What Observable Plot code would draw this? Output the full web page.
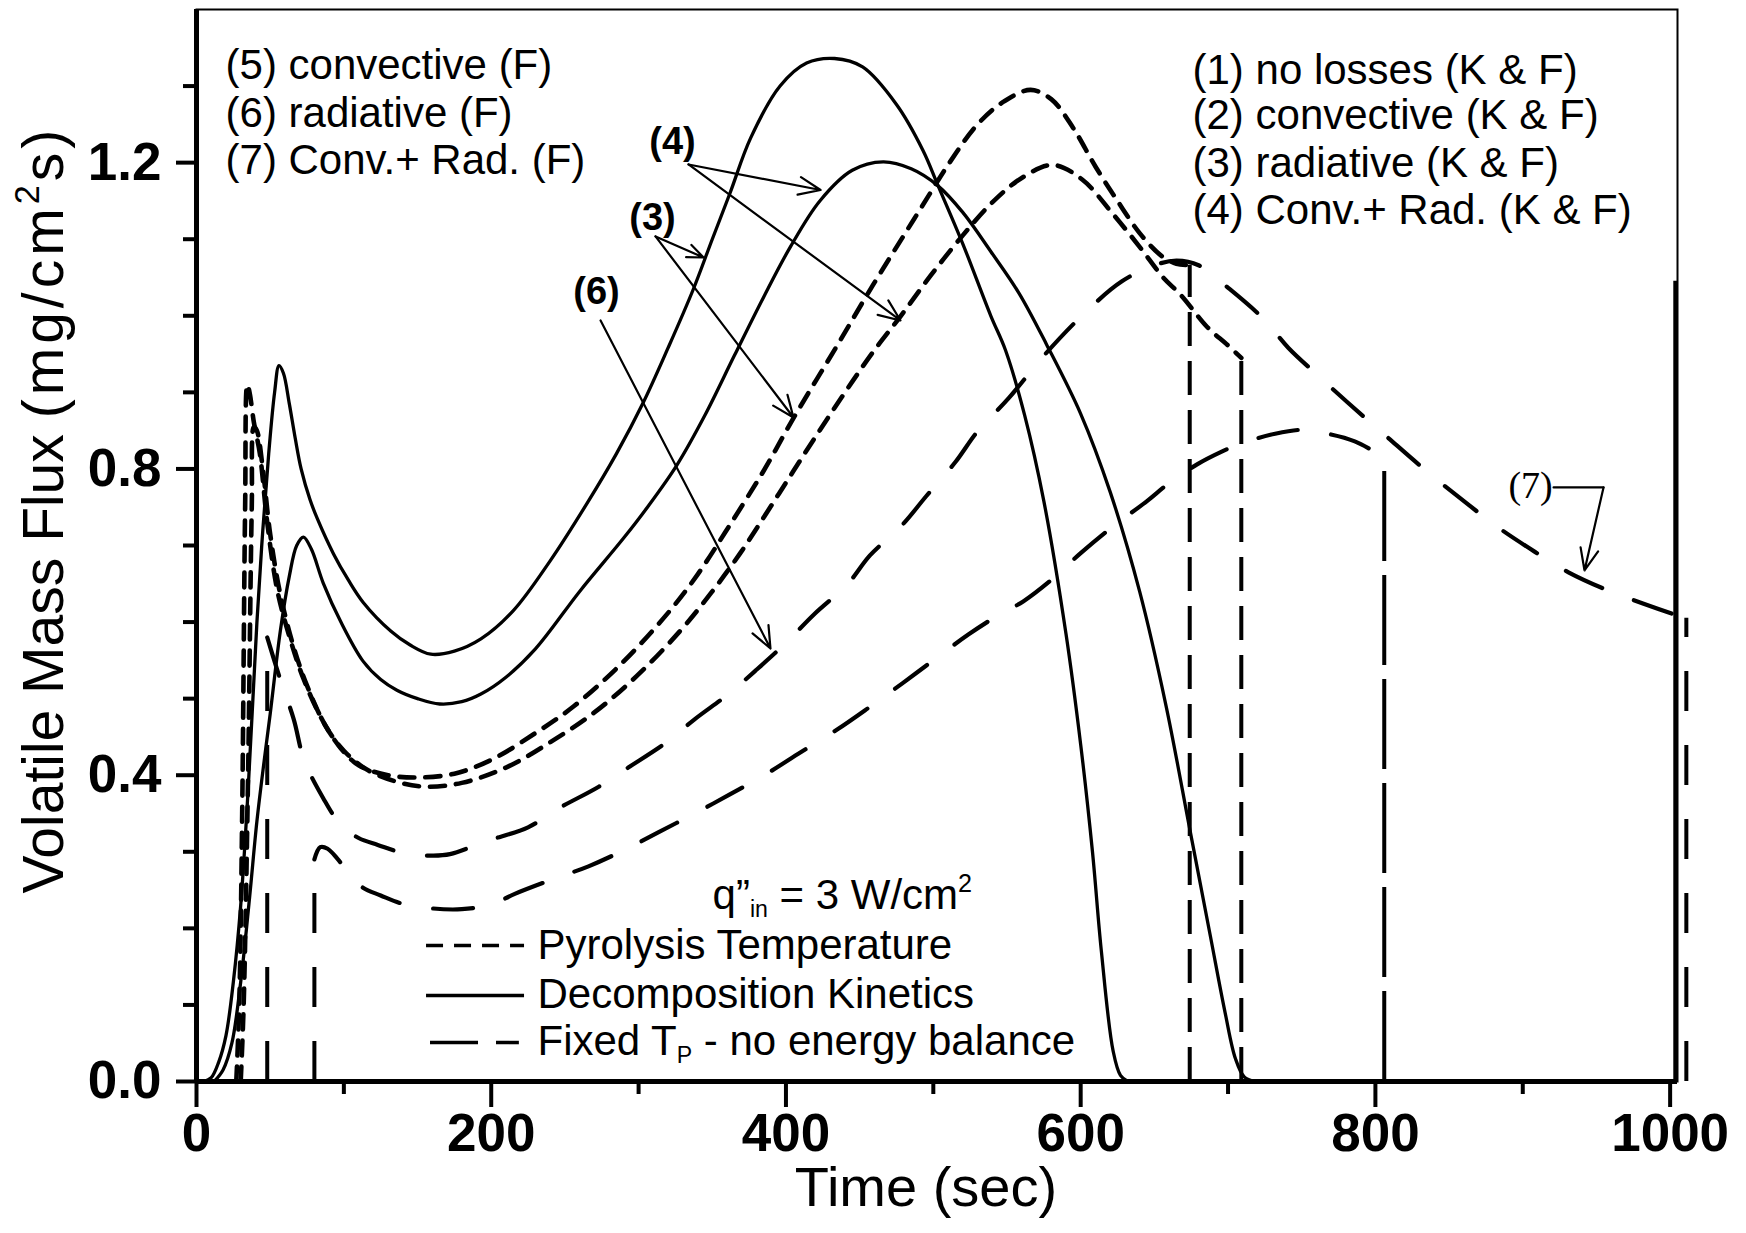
<!DOCTYPE html>
<html>
<head>
<meta charset="utf-8">
<script src="https://cdn.jsdelivr.net/npm/d3@7"></script>
<script src="https://cdn.jsdelivr.net/npm/@observablehq/plot@0.6"></script>
<style>
  html, body { margin: 0; padding: 0; background: #fff; }
  svg { display: block; }
  g[aria-label$="tick label"] text { font-weight: bold; }
</style>
</head>
<body>
<div id="chart"></div>
<script>
// ---------- ticks ----------
const timeTicksMajor = [0, 200, 400, 600, 800, 1000];
const timeTicksMinor = [100, 300, 500, 700, 900];
const fluxTicksMajor = [0, 0.4, 0.8, 1.2];
const fluxTicksMinor = [0.1, 0.2, 0.3, 0.5, 0.6, 0.7, 0.9, 1.0, 1.1, 1.3];

// ---------- series: [time (s), volatile mass flux (mg/cm^2 s)] ----------
// Decomposition kinetics, upper solid curve (arrow 3)
const kinetics3 = [[5,0],[10,0.005],[15,0.025],[20,0.06],[25,0.13],[30,0.23],[35,0.38],[41,0.6],[45,0.72],[49,0.82],[53,0.9],[56,0.935],[59,0.925],[63,0.885],[67,0.84],[71,0.8],[77,0.76],[82,0.735],[93,0.689],[103,0.655],[113,0.626],[132,0.588],[145,0.57],[159,0.558],[175,0.562],[193,0.578],[215,0.615],[240,0.68],[265,0.755],[285,0.82],[303,0.886],[320,0.958],[337,1.034],[350,1.1],[362,1.16],[376,1.232],[396,1.3],[414,1.33],[433,1.336],[452,1.325],[475,1.276],[493,1.216],[503,1.171],[520,1.094],[539,1.0],[549,0.955],[562,0.87],[575,0.758],[590,0.585],[600,0.44],[608,0.3],[614,0.171],[622,0.04],[627,0.008],[632,0]];
// Decomposition kinetics, lower solid curve (arrow 4)
const kinetics4 = [[12,0],[18,0.015],[24,0.05],[30,0.13],[36,0.24],[41,0.34],[46,0.42],[50,0.48],[57,0.59],[63,0.66],[68,0.7],[72.6,0.711],[78,0.695],[86,0.651],[98,0.6],[113,0.549],[125,0.525],[136,0.511],[150,0.5],[165,0.493],[180,0.496],[193,0.506],[210,0.528],[230,0.565],[260,0.64],[290,0.71],[306,0.75],[326,0.805],[345,0.87],[365,0.948],[385,1.025],[403,1.09],[423,1.15],[445,1.19],[466,1.201],[485,1.192],[503,1.17],[520,1.135],[539,1.084],[558,1.03],[577,0.962],[600,0.872],[620,0.77],[640,0.64],[658,0.49],[674,0.33],[688,0.19],[698,0.09],[705,0.03],[711,0.006],[718,0]];
// Pyrolysis temperature, upper short-dash curve (arrow 3)
const pyrolysis3 = [[27,0],[29,0.1],[31,0.35],[33,0.75],[34.5,0.91],[36,0.9],[39,0.86],[43,0.82],[48,0.73],[55,0.64],[64,0.575],[73,0.524],[86,0.47],[98,0.435],[110,0.413],[130,0.4],[150,0.397],[175,0.402],[200,0.42],[230,0.455],[256,0.49],[288,0.545],[320,0.612],[340,0.662],[362,0.727],[385,0.798],[405,0.866],[435,0.962],[459,1.04],[480,1.105],[493,1.145],[511,1.2],[530,1.25],[548,1.28],[566,1.295],[580,1.283],[595,1.245],[610,1.195],[625,1.15],[640,1.108],[655,1.078],[665,1.068],[674,1.066]];
// Pyrolysis temperature, lower short-dash curve (arrow 4)
const pyrolysis4 = [[30,0],[32,0.1],[35,0.4],[37.5,0.75],[39,0.855],[41,0.85],[45,0.8],[50,0.715],[57,0.635],[66,0.567],[75,0.517],[88,0.463],[100,0.432],[115,0.408],[135,0.392],[155,0.385],[180,0.39],[210,0.41],[240,0.443],[270,0.482],[299,0.53],[328,0.588],[350,0.64],[369,0.69],[385,0.737],[400,0.782],[415,0.827],[430,0.871],[445,0.914],[460,0.955],[478,1.0],[498,1.052],[520,1.105],[540,1.148],[560,1.18],[581,1.197],[601,1.178],[621,1.135],[640,1.09],[656,1.05],[668,1.027],[686,0.985],[699,0.963],[709,0.945]];
// Fixed T_P, upper long-dash curve (arrows 6 and 7)
const fixedUpper = [[48,0.58],[57,0.524],[66,0.473],[73,0.42],[86,0.37],[98,0.335],[110,0.318],[123,0.309],[143,0.297],[160,0.295],[172,0.297],[197,0.314],[225,0.332],[246,0.357],[273,0.385],[293,0.41],[319,0.443],[338,0.473],[361,0.506],[379,0.536],[399,0.571],[419,0.61],[442,0.65],[457,0.687],[479,0.727],[495,0.764],[515,0.809],[530,0.849],[551,0.892],[576,0.95],[604,1.006],[628,1.045],[650,1.066],[665,1.072],[680,1.066],[701,1.035],[724,0.996],[741,0.958],[761,0.922],[781,0.887],[806,0.845],[836,0.795],[862,0.755],[883,0.724],[908,0.692],[931,0.665],[957,0.642],[982,0.624],[1006,0.608],[1011,0.605]];
// Fixed T_P, lower long-dash curve
const fixedLower = [[80,0.29],[84,0.306],[89,0.304],[96,0.29],[105,0.268],[113,0.253],[125,0.243],[140,0.232],[160,0.226],[180,0.225],[200,0.231],[216,0.245],[243,0.265],[266,0.281],[290,0.302],[313,0.325],[340,0.352],[361,0.374],[387,0.402],[410,0.43],[435,0.46],[456,0.488],[479,0.52],[500,0.55],[524,0.584],[545,0.61],[561,0.627],[580,0.655],[600,0.69],[622,0.725],[645,0.758],[659,0.78],[679,0.806],[695,0.822],[710,0.834],[732,0.846],[750,0.851],[765,0.847],[786,0.836],[806,0.815]];

// vertical jumps: [time, flux at the top of the jump]
const pyrolysisDrops = [[674, 1.066], [709, 0.945]];
const fixedJumps = [[48, 0.58], [80, 0.29], [1011, 0.605]];
const fixedLowerDrop = [[806, 0.815]];
const kineticsDrop = [[1003.5, 1.045]];

// ---------- texts ----------
const leftNotes = ["(5) convective (F)", "(6) radiative (F)", "(7) Conv.+ Rad. (F)"];
const rightNotes = ["(1) no losses (K & F)", "(2) convective (K & F)", "(3) radiative (K & F)", "(4) Conv.+ Rad. (K & F)"];
const heatNote = "q”in = 3 W/cm2";
const legendLabels = ["Pyrolysis Temperature", "Decomposition Kinetics", "Fixed TP - no energy balance"];
const curveTags = ["(4)", "(3)", "(6)", "(7)"];
const xTitle = "Time (sec)";
const yTitle = "Volatile Mass Flux (mg/cm2s)";

// ---------- layout (annotation anchors in data units) ----------
const leftNotesT = 19.7, leftNotesV = [1.3086, 1.2472, 1.1858];
const rightNotesT = 675.9, rightNotesV = [1.3021, 1.2433, 1.1819, 1.1193];
const heatT = 350.2, heatV = 0.2259;
const legendLineT = [156.1, 222.6], legendLineV = [0.1776, 0.1123, 0.0509];
const legendTextT = 231.4, legendTextV = [0.1606, 0.0966, 0.0340];
const tagPos = [[323.0, 1.2276], [309.4, 1.1284], [271.4, 1.0317], [905.3, 0.7784]];
const pointerArrows = [
  [333.9, 1.1976, 423.5, 1.1643],
  [333.9, 1.1976, 477.7, 0.9939],
  [311.5, 1.1036, 344.1, 1.0761],
  [311.5, 1.1036, 405.1, 0.8672],
  [274.2, 0.9939, 389.5, 0.5655],
  [954.8, 0.7758, 941.9, 0.6674]
];
const tag7Leader = [[920.9, 0.7758], [954.8, 0.7758]];

const SOLID = {stroke: "black", strokeWidth: 3.3};
const SHORT = {stroke: "black", strokeWidth: 4.6, strokeDasharray: "15,11"};
const LONG = {stroke: "black", strokeWidth: 4.2, strokeDasharray: "40,34"};
const FONT = "'Liberation Sans', Arial, Helvetica, sans-serif";

const X = d => d[0], Y = d => d[1];
const line = (data, style) => Plot.line(data, {x: X, y: Y, curve: "catmull-rom", ...style});

const chart = Plot.plot({
  width: 1746,
  height: 1233,
  marginLeft: 196,
  marginRight: 69,
  marginTop: 9,
  marginBottom: 152,
  x: {domain: [0, 1005]},
  y: {domain: [0, 1.4]},
  style: {fontFamily: FONT, background: "white", color: "black"},
  marks: [
    Plot.frame({stroke: "black", strokeWidth: 2}),
    // curves
    line(kinetics3, SOLID),
    line(kinetics4, SOLID),
    line(pyrolysis3, SHORT),
    line(pyrolysis4, SHORT),
    line(fixedUpper, LONG),
    line(fixedLower, LONG),
    Plot.ruleX(pyrolysisDrops, {x: X, y1: 0, y2: Y, stroke: "black", strokeWidth: 4, strokeDasharray: "34,15"}),
    Plot.ruleX(fixedJumps, {x: X, y1: 0, y2: Y, stroke: "black", strokeWidth: 4, strokeDasharray: "40,34"}),
    Plot.ruleX(fixedLowerDrop, {x: X, y1: 0, y2: Y, stroke: "black", strokeWidth: 4, strokeDasharray: "90,14"}),
    Plot.ruleX(kineticsDrop, {x: X, y1: 0, y2: Y, stroke: "black", strokeWidth: 4}),
    // axes
    Plot.ruleX([0], {stroke: "black", strokeWidth: 5}),
    Plot.ruleY([0], {stroke: "black", strokeWidth: 5}),
    Plot.axisX({ticks: timeTicksMajor, tickSize: 26, tickPadding: 6, tickFormat: d3.format("d"), fontSize: 53, fontWeight: "bold", strokeWidth: 4, label: null}),
    Plot.axisX({ticks: timeTicksMinor, tickSize: 13, tickFormat: () => "", strokeWidth: 4, label: null}),
    Plot.axisY({ticks: fluxTicksMajor, tickSize: 20, tickPadding: 15, tickFormat: d3.format(".1f"), fontSize: 53, fontWeight: "bold", strokeWidth: 4, label: null}),
    Plot.axisY({ticks: fluxTicksMinor, tickSize: 13, tickFormat: () => "", strokeWidth: 4, label: null}),
    Plot.text([xTitle], {x: () => 495.0, y: () => -0.162, fontSize: 56, textAnchor: "middle", lineAnchor: "bottom", fill: "black"}),
    Plot.text([yTitle], {x: () => -103, y: () => 0.2455, fontSize: 57, rotate: -90, textAnchor: "start", fill: "black"}),
    // notes
    Plot.text(leftNotes, {x: () => leftNotesT, y: (d, i) => leftNotesV[i], fontSize: 42, textAnchor: "start", lineAnchor: "bottom", fill: "black"}),
    Plot.text(rightNotes, {x: () => rightNotesT, y: (d, i) => rightNotesV[i], fontSize: 42, textAnchor: "start", lineAnchor: "bottom", fill: "black"}),
    Plot.text([heatNote], {x: () => heatT, y: () => heatV, fontSize: 42, textAnchor: "start", lineAnchor: "bottom", fill: "black"}),
    // in-plot legend
    Plot.ruleY([legendLineV[0]], {x1: legendLineT[0], x2: legendLineT[1], stroke: "black", strokeWidth: 3.5, strokeDasharray: "17,11"}),
    Plot.ruleY([legendLineV[1]], {x1: legendLineT[0], x2: legendLineT[1], stroke: "black", strokeWidth: 3.5}),
    Plot.ruleY([legendLineV[2]], {x1: legendLineT[0] + 2.7, x2: legendLineT[1] - 3.5, stroke: "black", strokeWidth: 3.5, strokeDasharray: "48,18"}),
    Plot.text(legendLabels, {x: () => legendTextT, y: (d, i) => legendTextV[i], fontSize: 42, textAnchor: "start", lineAnchor: "bottom", fill: "black"}),
    // curve tags and pointers
    Plot.text(curveTags.slice(0, 3), {x: (d, i) => tagPos[i][0], y: (d, i) => tagPos[i][1], fontSize: 38, fontWeight: "bold", fill: "black"}),
    Plot.text(curveTags.slice(3), {x: () => tagPos[3][0], y: () => tagPos[3][1], fontSize: 38, fontFamily: "'Liberation Serif', 'Times New Roman', serif", fill: "black"}),
    Plot.arrow(pointerArrows, {x1: d => d[0], y1: d => d[1], x2: d => d[2], y2: d => d[3], stroke: "black", strokeWidth: 2.2, headLength: 16, headAngle: 45}),
    Plot.line(tag7Leader, {x: X, y: Y, stroke: "black", strokeWidth: 2.2})
  ]
});

// rich text: superscripts / subscripts
const richParts = {
  [yTitle]: ["Volatile Mass Flux ", {t: "(mg/cm", ls: 4}, {sup: "2"}, {t: "s)", ls: 4}],
  [heatNote]: ["q”", {sub: "in"}, " = 3 W/cm", {sup: "2"}],
  [legendLabels[2]]: ["Fixed T", {sub: "P"}, " - no energy balance"]
};
d3.select(chart).selectAll("text").each(function () {
  const parts = richParts[this.textContent];
  if (!parts) return;
  const t = d3.select(this);
  t.text(null);
  for (const p of parts) {
    const ts = t.append("tspan");
    if (typeof p === "string") ts.text(p);
    else if (p.t) ts.text(p.t).style("letter-spacing", p.ls + "px");
    else if (p.sup) ts.text(p.sup).style("font-size", "60%").attr("baseline-shift", "70%").style("letter-spacing", "4px");
    else ts.text(p.sub).style("font-size", "55%").attr("baseline-shift", "-35%");
  }
});

document.getElementById("chart").appendChild(chart);
</script>
</body>
</html>
